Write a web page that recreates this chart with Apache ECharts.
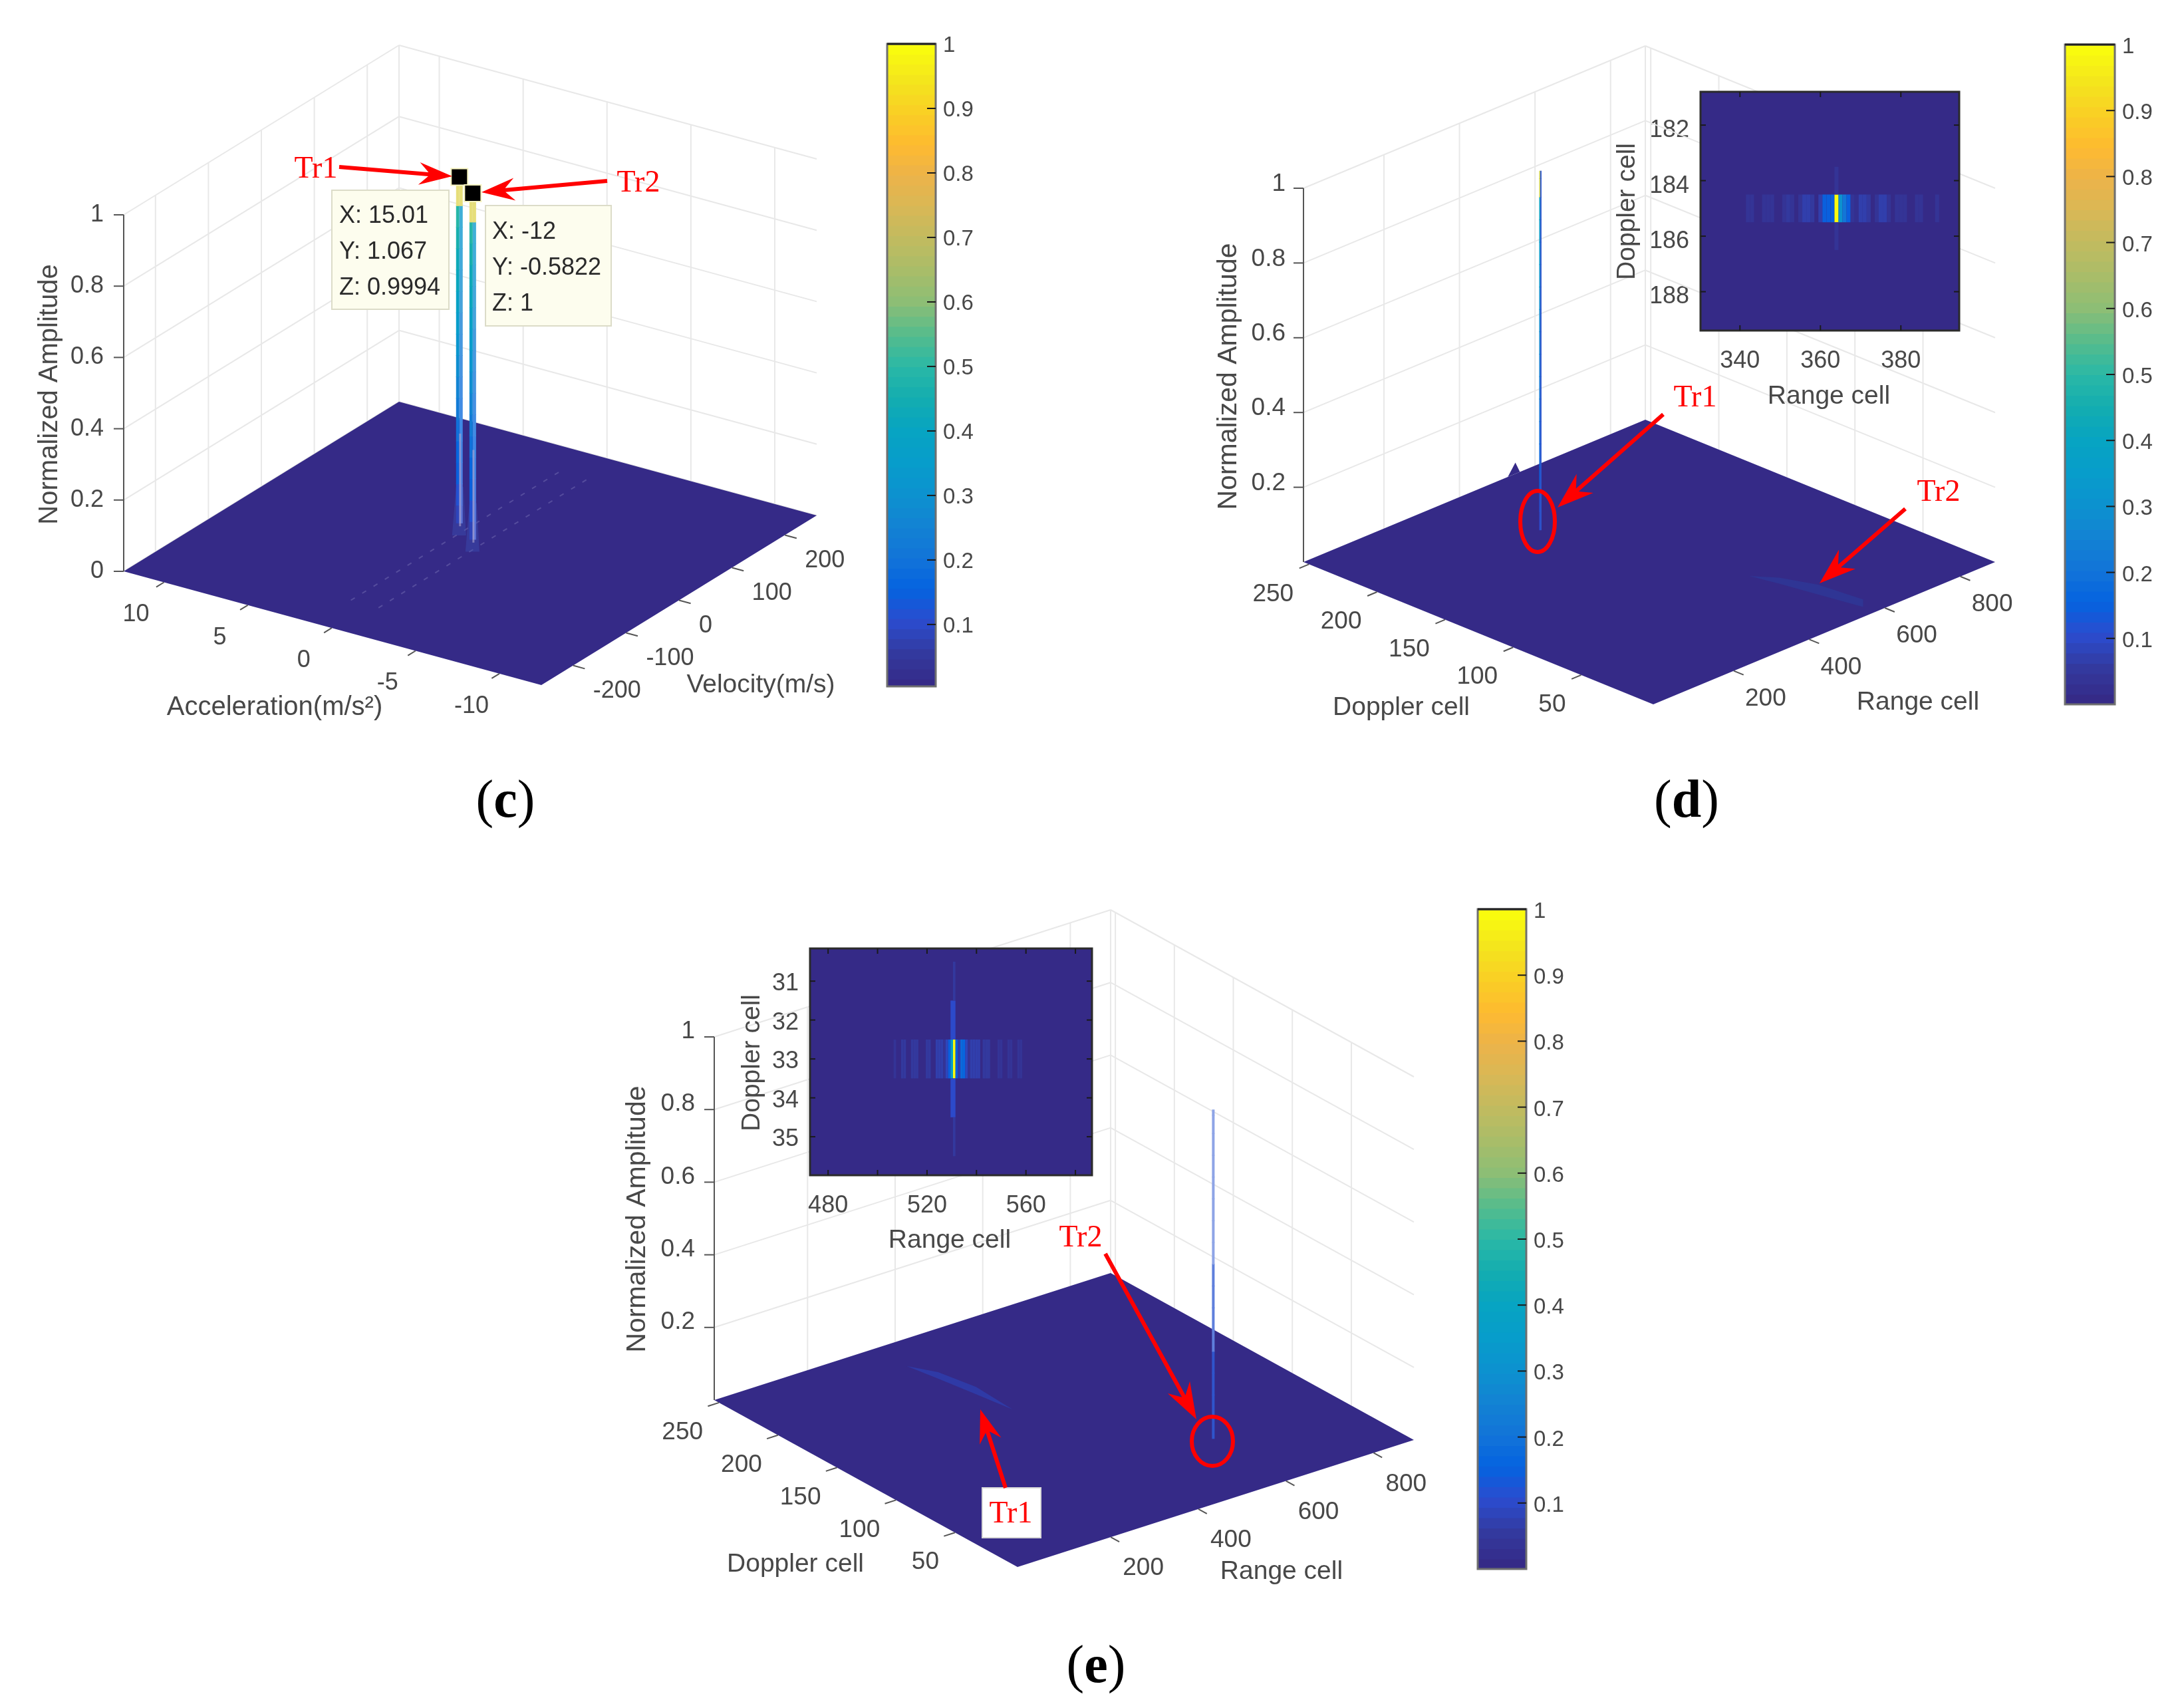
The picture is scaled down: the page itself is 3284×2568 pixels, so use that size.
<!DOCTYPE html>
<html><head><meta charset="utf-8">
<style>html,body{margin:0;padding:0;background:#fff}#chart{width:3284px;height:2568px}</style>
<script src="https://cdn.jsdelivr.net/npm/echarts@6/dist/echarts.min.js"></script>
</head><body><div id="chart"></div>
<script>
// ---------- data ----------
const zTicksFull = [0, 0.2, 0.4, 0.6, 0.8, 1];
const zTicksNoZero = [0.2, 0.4, 0.6, 0.8, 1];
const cAccelTicks = [10, 5, 0, -5, -10];
const cVelocityTicks = [-200, -100, 0, 100, 200];
const cPeakVelocity = [15.01, -12];
const cPeakAccel = [1.067, -0.5822];
const cPeakAmp = [0.9994, 1];
const stemLevels = [0.03, 0.08, 0.14, 0.2, 0.26, 0.32, 0.38, 0.44, 0.5, 0.56, 0.62, 0.68, 0.74, 0.8, 0.86, 0.92, 0.97];

const dopplerTicks = [50, 100, 150, 200, 250];
const rangeTicks = [200, 400, 600, 800];
const dPeak = { doppler: 185, range: 365, amp: 0.99 };
const ePeak = { doppler: 33, range: 531, amp: 0.985 };
const dRidgeDoppler = [76, 58, 34, 6];
const dRidgeRange = [525, 540, 556, 575];
const dRidgeAmp = [0, 0.016, 0.026, 0.02];
const eRidgeDoppler = [227, 205, 178, 152];
const eRidgeRange = [354, 366, 380, 393];
const eRidgeAmp = [0, 0.018, 0.02, 0];

const dInsetXLabels = [340, 360, 380];
const dInsetYLabels = [182, 184, 186, 188];
const dMainRowRanges = [342,343,346,347,348,351,352,353,355,356,357,358,360,361,362,363,364,365,366,367,368,369,370,371,372,374,375,376,377,379,380,381,384,385,389];
const dMainRowValues = [.035,.035,.03,.035,.03,.03,.045,.03,.025,.06,.07,.05,.07,.15,.15,.15,1,.3,.2,.14,.03,.02,.06,.06,.04,.025,.06,.06,.03,.035,.035,.035,.03,.03,.025];
const dColumnRows = [184, 186];
const dColumnValues = [.025, .025];

const eInsetXLabels = [480, 520, 560];
const eInsetXTicks = [480, 500, 520, 540, 560, 580];
const eInsetYLabels = [31, 32, 33, 34, 35];
const eMainRowRanges = [507,510,511,514,515,516,520,521,524,525,526,527,528,529,530,531,532,533,534,535,536,537,538,539,540,541,543,544,545,549,550,553,554,557,558];
const eMainRowValues = [.03,.04,.04,.04,.045,.04,.05,.05,.07,.07,.07,.03,.08,.14,.35,1,.14,.06,.17,.16,.08,.03,.07,.07,.07,.07,.05,.05,.05,.035,.035,.035,.035,.03,.03];
const eColumnRanges = [530, 531, 530, 531, 531, 531];
const eColumnRows = [32, 32, 34, 34, 31, 35];
const eColumnValues = [.09, .09, .09, .09, .04, .04];

const colorbarTicks = [0.1, 0.2, 0.3, 0.4, 0.5, 0.6, 0.7, 0.8, 0.9, 1];
const parulaStops = [0,.05,.1,.15,.2,.25,.3,.35,.4,.45,.5,.55,.6,.65,.7,.75,.8,.85,.9,.95,1];
const parulaColors = ['#352a87','#333a9f','#2b4cce','#0563e0','#1274d8','#1283d3','#0c92cf','#079dcb','#07a4c2','#13adb0','#2ab8a6','#55bc8d','#8bbe76','#a8bd69','#c0bb60','#d8b856','#ebb34a','#feba30','#f9cf25','#f4e51d','#f9fb0e'];

// ---------- layout ----------
const FONT = '"Liberation Sans", Arial, sans-serif';
const SERIF = '"Liberation Serif", "Times New Roman", serif';
const INK = '#484848';
const FLOOR = '#352a87';
const WALL = '#e8e8e8';

function hexToRgb(h){return [1,3,5].map(i=>parseInt(h.substr(i,2),16));}
function parula(v){
  const q = Math.round(Math.max(0,Math.min(1,v))*63)/63;
  let i = 0; while(i<parulaStops.length-2 && q>parulaStops[i+1]) i++;
  const t=(q-parulaStops[i])/(parulaStops[i+1]-parulaStops[i]);
  const a=hexToRgb(parulaColors[i]),b=hexToRgb(parulaColors[i+1]);
  return 'rgb('+a.map((c,k)=>Math.round(c+(b[k]-c)*t)).join(',')+')';
}
function lighten(rgb,t){
  const m=rgb.match(/\d+/g).map(Number);
  return 'rgb('+m.map(c=>Math.round(c+(255-c)*t)).join(',')+')';
}
function makeProj(P){
  const ax=[P.L[0]-P.F[0],P.L[1]-P.F[1]], bx=[P.R[0]-P.F[0],P.R[1]-P.F[1]];
  return (a,b,z)=>{
    const s=(a-P.aF)/(P.aL-P.aF), r=(b-P.bF)/(P.bR-P.bF);
    return [P.F[0]+ax[0]*s+bx[0]*r, P.F[1]+ax[1]*s+bx[1]*r-(z||0)*P.zUnit];
  };
}
const panelC={F:[814,1030],L:[186,859],R:[1228,775],zUnit:536,aF:-12.5,aL:12.4,bF:-260,bR:260};
const panelD={F:[2486,1059],L:[1960,845],R:[3000,845],zUnit:562,aF:-3,aL:254,bF:-13,bR:892};
const panelE={F:[1530,2356],L:[1074,2105],R:[2126,2165],zUnit:546,aF:-3,aL:254,bF:-13,bR:892};
const projC=makeProj(panelC),projD=makeProj(panelD),projE=makeProj(panelE);

// ---------- series helpers ----------
const series=[], graphics=[], pendingMarks=[];
function segSeries(segs,style,z){
  series.push({type:'custom',coordinateSystem:'cartesian2d',xAxisIndex:0,yAxisIndex:0,silent:true,animation:false,clip:false,z,
    data:segs,encode:{x:0,y:1},
    renderItem:(p,api)=>{
      const a=api.coord([api.value(0),api.value(1)]),b=api.coord([api.value(2),api.value(3)]);
      return {type:'line',shape:{x1:a[0],y1:a[1],x2:b[0],y2:b[1]},style:Object.assign({fill:null},style)};
    }});
}
function polySeries(pts,style,z){
  series.push({type:'custom',coordinateSystem:'cartesian2d',xAxisIndex:0,yAxisIndex:0,silent:true,animation:false,clip:false,z,
    data:pts,encode:{x:0,y:1},
    renderItem:(p,api)=>{
      if(p.dataIndex!==0) return null;
      return {type:'polygon',shape:{points:pts.map(q=>api.coord(q))},style};
    }});
}
function stemSeries(proj,a,b,levels,zTop,xOff,w,colorFn,z){
  const zs=levels.filter(v=>v<zTop).concat([zTop]);
  const rows=[];
  for(let i=0;i<zs.length-1;i++){
    const p0=proj(a,b,zs[i]),p1=proj(a,b,zs[i+1]);
    rows.push([p0[0],p0[1],p1[1],(zs[i]+zs[i+1])/2]);
  }
  series.push({type:'custom',coordinateSystem:'cartesian2d',xAxisIndex:0,yAxisIndex:0,silent:true,animation:false,clip:false,z,
    data:rows,encode:{x:0,y:1},
    renderItem:(p,api)=>{
      const c0=api.coord([api.value(0),api.value(1)]),c1=api.coord([api.value(0),api.value(2)]);
      return {type:'rect',shape:{x:c0[0]+xOff,y:c1[1],width:w,height:c0[1]-c1[1]+1},style:{fill:colorFn(api.value(3))}};
    }});
}
// tick marks placed through a grid's own axes once the chart exists
function axisMarks(gridIndex,values,side,fixed,len){
  const vertical=(side==='left'||side==='right');
  values.forEach(v=>pendingMarks.push({gridIndex,point:vertical?[fixed,v]:[v,fixed],
    delta:{left:[len,0],right:[-len,0],top:[0,len],bottom:[0,-len]}[side]}));
}
function shiftedLabel(size,shift){
  return {
    formatter:v=>'{a|'+String(Math.round(v*100)/100)+'}',
    rich:{a:{fontSize:size,fontFamily:FONT,color:INK,padding:[shift,0,0,0]}}
  };
}
function label(text,x,y,o){
  o=o||{};
  graphics.push({type:'text',x,y,z:o.z||60,silent:true,rotation:o.rot||0,
    style:{text,fill:o.fill||INK,fontSize:o.size||36,fontFamily:o.family||FONT,align:o.align||'center',verticalAlign:'middle'}});
}
function arrow(x0,y0,x1,y1,headLen,headHalf){
  const L=Math.hypot(x1-x0,y1-y0),ux=(x1-x0)/L,uy=(y1-y0)/L,nx=-uy,ny=ux;
  const sw=3, bx=x1-ux*headLen*0.72, by=y1-uy*headLen*0.72, hx=x1-ux*headLen, hy=y1-uy*headLen;
  graphics.push({type:'polygon',z:70,silent:true,style:{fill:'#ff0000'},shape:{points:[
    [x0+nx*sw,y0+ny*sw],[bx+nx*sw,by+ny*sw],[hx+nx*headHalf,hy+ny*headHalf],[x1,y1],
    [hx-nx*headHalf,hy-ny*headHalf],[bx-nx*sw,by-ny*sw],[x0-nx*sw,y0-ny*sw]]}});
}
function ring(cx,cy,rx,ry){
  graphics.push({type:'ellipse',z:70,silent:true,shape:{cx,cy,rx,ry},style:{fill:null,stroke:'#ff0000',lineWidth:6}});
}
function caption(letter,x,y){
  graphics.push({type:'text',x,y,z:60,silent:true,style:{text:'({b|'+letter+'})',fill:'#000',fontSize:80,fontFamily:SERIF,align:'center',verticalAlign:'middle',
    rich:{b:{fontSize:80,fontWeight:'bold',fontFamily:SERIF,fill:'#000'}}}});
}

// ---------- one 3-D box ----------
function box(P,proj,aTicks,bTicks,zTicks){
  const aHi=P.aL,aLo=P.aF,bHi=P.bR,bLo=P.bF,top=1.0;
  const walls=[];
  zTicks.forEach(z=>{
    const l=proj(aHi,bLo,z),c=proj(aHi,bHi,z),r=proj(aLo,bHi,z);
    walls.push([l[0],l[1],c[0],c[1]],[c[0],c[1],r[0],r[1]]);
  });
  bTicks.forEach(b=>{const p=proj(aHi,b,0),q=proj(aHi,b,top);walls.push([p[0],p[1],q[0],q[1]]);});
  aTicks.forEach(a=>{const p=proj(a,bHi,0),q=proj(a,bHi,top);walls.push([p[0],p[1],q[0],q[1]]);});
  const c0=proj(aHi,bHi,0),c1=proj(aHi,bHi,top);walls.push([c0[0],c0[1],c1[0],c1[1]]);
  segSeries(walls,{stroke:WALL,lineWidth:2},1);
  polySeries([proj(aLo,bLo),proj(aHi,bLo),proj(aHi,bHi),proj(aLo,bHi)],{fill:FLOOR},2);
  const ticks=[];
  const bSpan=(bHi-bLo)*0.028, aSpan=(aHi-aLo)*0.028;
  aTicks.forEach(a=>{const p=proj(a,bLo),q=proj(a,bLo-bSpan);ticks.push([p[0],p[1],q[0],q[1]]);});
  bTicks.forEach(b=>{const p=proj(aLo,b),q=proj(aLo-aSpan,b);ticks.push([p[0],p[1],q[0],q[1]]);});
  const zb=proj(aHi,bLo,0),zt=proj(aHi,bLo,top);
  ticks.push([zb[0],zb[1],zt[0],zt[1]]);
  zTicks.forEach(z=>{const p=proj(aHi,bLo,z);ticks.push([p[0],p[1],p[0]-15,p[1]]);});
  segSeries(ticks,{stroke:'#555555',lineWidth:2},3);
}

// ---------- panel (c) ----------
box(panelC,projC,cAccelTicks,cVelocityTicks,zTicksFull);
const ridgeC=[];
cPeakAccel.forEach(a=>{
  const p=projC(a,-190),q=projC(a,215);ridgeC.push([p[0],p[1],q[0],q[1]]);
});
segSeries(ridgeC,{stroke:'rgba(170,165,215,0.28)',lineWidth:2,lineDash:[7,13]},3);
cPeakAccel.forEach((a,i)=>{
  const v=cPeakVelocity[i],base=projC(a,v,0);
  polySeries([[base[0]-11,base[1]+3],[base[0]-5,base[1]-70],[base[0]+6,base[1]-70],[base[0]+10,base[1]+3]],{fill:'rgba(60,90,190,0.35)'},3);
  stemSeries(projC,a,v,stemLevels,cPeakAmp[i],-5,5,z=>z>0.9?'#e6de7a':parula(z*0.5+0.05),4);
  stemSeries(projC,a,v,stemLevels,cPeakAmp[i],0,5,z=>z>0.9?'#e6de7a':lighten(parula(z*0.28+0.08),0.22),4);
  const lo=projC(a,v,0.02),hi=projC(a,v,0.28);
  segSeries([[lo[0]+1,lo[1],hi[0]+1,hi[1]]],{stroke:'rgba(175,165,205,0.6)',lineWidth:3},5);
});
series.push({type:'scatter',xAxisIndex:0,yAxisIndex:0,silent:true,animation:false,z:8,symbol:'rect',symbolSize:25,
  data:cPeakAccel.map((a,i)=>projC(a,cPeakVelocity[i],1)),
  itemStyle:{color:'#000',opacity:1,borderColor:'#f6f3c0',borderWidth:2}});
cAccelTicks.forEach(a=>{const p=projC(a,panelC.bF);label(String(a),p[0]-42,p[1]+49,{size:36});});
cVelocityTicks.forEach(b=>{const p=projC(panelC.aF,b);label(String(b),p[0]+30,p[1]+39,{size:36,align:'left'});});
zTicksFull.forEach(z=>{const p=projC(panelC.aL,panelC.bF,z);label(String(z),p[0]-30,p[1],{size:36,align:'right'});});
label('Normalized Amplitude',75,593,{size:40,rot:Math.PI/2});
label('Acceleration(m/s²)',413,1064,{size:40});
label('Velocity(m/s)',1144,1030,{size:39});
[[499,286,176,179,['X: 15.01','Y: 1.067','Z: 0.9994'],510,325],[730,309,189,181,['X: -12','Y: -0.5822','Z: 1'],740,349]].forEach(t=>{
  graphics.push({type:'rect',z:50,silent:true,shape:{x:t[0],y:t[1],width:t[2],height:t[3]},style:{fill:'#fdfdee',stroke:'#dcdcc8',lineWidth:2}});
  t[4].forEach((s,i)=>label(s,t[5],t[6]+i*54,{size:36,align:'left',fill:'#2a2a2a'}));
});
label('Tr1',475,255,{size:46,family:SERIF,fill:'#ff0000'});
label('Tr2',960,276,{size:46,family:SERIF,fill:'#ff0000'});
arrow(510,251,680,265,50,17);
arrow(913,272,724,289,50,17);
caption('c',760,1207);

// ---------- panel (d) ----------
box(panelD,projD,dopplerTicks,rangeTicks,zTicksNoZero);
polySeries([projD(254,528,0),projD(254,548,0.03),projD(254,560,0)],{fill:FLOOR},3);
(function(){
  const up=dRidgeDoppler.map((d,i)=>projD(d,dRidgeRange[i],dRidgeAmp[i]));
  const dn=dRidgeDoppler.map((d,i)=>projD(d,dRidgeRange[i],0)).reverse();
  polySeries(up.concat(dn),{fill:'#2f3594'},3);
})();
stemSeries(projD,dPeak.doppler,dPeak.range,stemLevels,dPeak.amp,-1.5,1.5,z=>z>0.94?'#d8d84a':parula(z*0.35+0.08),4);
stemSeries(projD,dPeak.doppler,dPeak.range,stemLevels,dPeak.amp,0,2,z=>'#2c55cc',4);
dopplerTicks.forEach(d=>{const p=projD(d,panelD.bF);label(String(d),p[0]-23,p[1]+45,{size:37,align:'right'});});
rangeTicks.forEach(r=>{const p=projD(panelD.aF,r);label(String(r),p[0]+17,p[1]+42,{size:37,align:'left'});});
zTicksNoZero.forEach(z=>{const p=projD(panelD.aL,panelD.bF,z);label(String(z),p[0]-27,p[1]-6,{size:37,align:'right'});});
label('Normalized Amplitude',1848,566,{size:41,rot:Math.PI/2});
label('Doppler cell',2107,1064,{size:39});
label('Range cell',2884,1056,{size:39});
label('Doppler cell',2447,318,{size:39,rot:Math.PI/2});
label('Range cell',2750,596,{size:39});
label('Tr1',2549,599,{size:46,family:SERIF,fill:'#ff0000'});
label('Tr2',2915,741,{size:46,family:SERIF,fill:'#ff0000'});
arrow(2501,623,2342,763,55,19);
arrow(2865,765,2736,877,55,19);
ring(2312,784,26,46);
caption('d',2536,1207);

// ---------- panel (e) ----------
box(panelE,projE,dopplerTicks,rangeTicks,zTicksNoZero);
(function(){
  const up=eRidgeDoppler.map((d,i)=>projE(d,eRidgeRange[i],eRidgeAmp[i]));
  const dn=eRidgeDoppler.map((d,i)=>projE(d,eRidgeRange[i],0)).reverse();
  polySeries(up.concat(dn),{fill:'#2f3aa6'},3);
})();
stemSeries(projE,ePeak.doppler,ePeak.range,stemLevels.slice(1),ePeak.amp,-2,4,z=>z>0.55?'#8ea4e6':(z>0.3?'#5f7fdc':'#2f55cc'),4);
dopplerTicks.forEach(d=>{const p=projE(d,panelE.bF);label(String(d),p[0]-24,p[1]+45,{size:37,align:'right'});});
rangeTicks.forEach(r=>{const p=projE(panelE.aF,r);label(String(r),p[0]+18,p[1]+47,{size:37,align:'left'});});
zTicksNoZero.forEach(z=>{const p=projE(panelE.aL,panelE.bF,z);label(String(z),p[0]-29,p[1]-8,{size:37,align:'right'});});
label('Normalized Amplitude',959,1833,{size:41,rot:Math.PI/2});
label('Doppler cell',1196,2352,{size:39});
label('Range cell',1927,2363,{size:39});
label('Doppler cell',1131,1598,{size:39,rot:Math.PI/2});
label('Range cell',1428,1865,{size:39});
label('Tr2',1625,1862,{size:46,family:SERIF,fill:'#ff0000'});
graphics.push({type:'rect',z:65,silent:true,shape:{x:1477,y:2237,width:88,height:75},style:{fill:'#fff',stroke:'#d8d8d8',lineWidth:2}});
label('Tr1',1520,2277,{size:46,family:SERIF,fill:'#ff0000',z:71});
arrow(1662,1885,1799,2134,55,19);
arrow(1512,2237,1474,2119,50,17);
ring(1823,2167,31,37);
caption('e',1648,2508);

// ---------- axes/grids ----------
const grids=[{left:0,top:0,width:3284,height:2568,show:false}];
const xAxes=[{type:'value',gridIndex:0,min:0,max:3284,show:false}];
const yAxes=[{type:'value',gridIndex:0,min:0,max:2568,inverse:true,show:false}];

function colorbar(left,top,width,height,vmin,labelShift){
  const gi=grids.length;
  grids.push({left,top,width,height,show:false});
  const xi=xAxes.length,yi=yAxes.length;
  xAxes.push({type:'value',gridIndex:gi,min:0,max:1,show:false});
  yAxes.push({type:'value',gridIndex:gi,min:vmin,max:1,position:'right',
    axisLine:{show:false,onZero:false},splitLine:{show:false},axisTick:{show:false},
    axisLabel:Object.assign({show:true,margin:11,customValues:colorbarTicks},shiftedLabel(33,labelShift))});
  const levels=[];for(let i=0;i<64;i++)levels.push([i/64,(i+1)/64,i/63]);
  series.push({type:'custom',xAxisIndex:xi,yAxisIndex:yi,coordinateSystem:'cartesian2d',silent:true,animation:false,z:5,clip:true,
    data:levels,encode:{y:0},
    renderItem:(p,api)=>{
      const a=api.coord([0,api.value(0)]),b=api.coord([1,api.value(1)]);
      return {type:'rect',shape:{x:a[0],y:b[1],width:b[0]-a[0],height:a[1]-b[1]+1},style:{fill:parula(api.value(2))}};
    }});
  axisMarks(gi,colorbarTicks.slice(0,-1),'right',1,13);
  graphics.push({type:'rect',z:20,silent:true,shape:{x:left,y:top,width,height},style:{fill:null,stroke:'#6f6f6f',lineWidth:3}});
  graphics.push({type:'line',z:21,silent:true,shape:{x1:left,y1:top,x2:left+width,y2:top},style:{stroke:'#222',lineWidth:3}});
}
colorbar(1334,66,73,966,0.004,6);
colorbar(3105,67,75,992,0,8);
colorbar(2222,1367,73,992,0,8);

function inset(left,top,width,height,xr,yr,xLabels,xTicks,yLabels,cells,yShift){
  const gi=grids.length;
  grids.push({left,top,width,height,show:false});
  const xi=xAxes.length,yi=yAxes.length;
  const ax=(extra)=>Object.assign({type:'value',gridIndex:gi,axisLine:{show:false,onZero:false},splitLine:{show:false},axisTick:{show:false}},extra);
  xAxes.push(ax({min:xr[0],max:xr[1],position:'bottom',axisLabel:Object.assign({show:true,margin:28,customValues:xLabels},shiftedLabel(36,0))}));
  yAxes.push(ax({min:yr[0],max:yr[1],inverse:true,position:'left',axisLabel:Object.assign({show:true,margin:17,customValues:yLabels},shiftedLabel(36,yShift))}));
  series.push({type:'custom',xAxisIndex:xi,yAxisIndex:yi,coordinateSystem:'cartesian2d',silent:true,animation:false,z:6,clip:true,
    data:[[xr[0],yr[0],xr[1],yr[1]]],encode:{x:0,y:1},
    renderItem:(p,api)=>{
      const a=api.coord([api.value(0),api.value(1)]),b=api.coord([api.value(2),api.value(3)]);
      return {type:'rect',shape:{x:a[0],y:a[1],width:b[0]-a[0],height:b[1]-a[1]},style:{fill:FLOOR}};
    }});
  series.push({type:'custom',xAxisIndex:xi,yAxisIndex:yi,coordinateSystem:'cartesian2d',silent:true,animation:false,z:7,clip:true,
    data:cells,encode:{x:0,y:1},
    renderItem:(p,api)=>{
      const r=api.value(0),d=api.value(1);
      const a=api.coord([r-0.5,d-0.5]),b=api.coord([r+0.5,d+0.5]);
      return {type:'rect',shape:{x:a[0],y:a[1],width:b[0]-a[0],height:b[1]-a[1]},style:{fill:parula(api.value(2))}};
    }});
  axisMarks(gi,xTicks,'bottom',yr[1],8);
  axisMarks(gi,xTicks,'top',yr[0],8);
  axisMarks(gi,yLabels,'left',xr[0],8);
  axisMarks(gi,yLabels,'right',xr[1],8);
  graphics.push({type:'rect',z:20,silent:true,shape:{x:left,y:top,width,height},style:{fill:null,stroke:'#2b2b2b',lineWidth:3}});
}
const dCells=dMainRowRanges.map((r,i)=>[r,185,dMainRowValues[i]]).concat(dColumnRows.map((d,i)=>[364,d,dColumnValues[i]]));
const eCells=eMainRowRanges.map((r,i)=>[r,33,eMainRowValues[i]]).concat(eColumnRanges.map((r,i)=>[r,eColumnRows[i],eColumnValues[i]]));
inset(2557,138,389,359,[330.2,394.5],[180.8,189.4],dInsetXLabels,dInsetXLabels,dInsetYLabels,dCells,16);
inset(1218,1426,424,341,[472.7,586.7],[30.16,35.99],eInsetXLabels,eInsetXTicks,eInsetYLabels,eCells,8);

const chart=echarts.init(document.getElementById('chart'),null,{renderer:'canvas',width:3284,height:2568});
chart.setOption({backgroundColor:'#ffffff',animation:false,grid:grids,xAxis:xAxes,yAxis:yAxes,series});
pendingMarks.forEach(m=>{
  const a=chart.convertToPixel({gridIndex:m.gridIndex},m.point);
  graphics.push({type:'line',z:25,silent:true,shape:{x1:a[0],y1:a[1],x2:a[0]+m.delta[0],y2:a[1]+m.delta[1]},style:{stroke:'#1a1a1a',lineWidth:2}});
});
chart.setOption({graphic:{elements:graphics}});
</script></body></html>
